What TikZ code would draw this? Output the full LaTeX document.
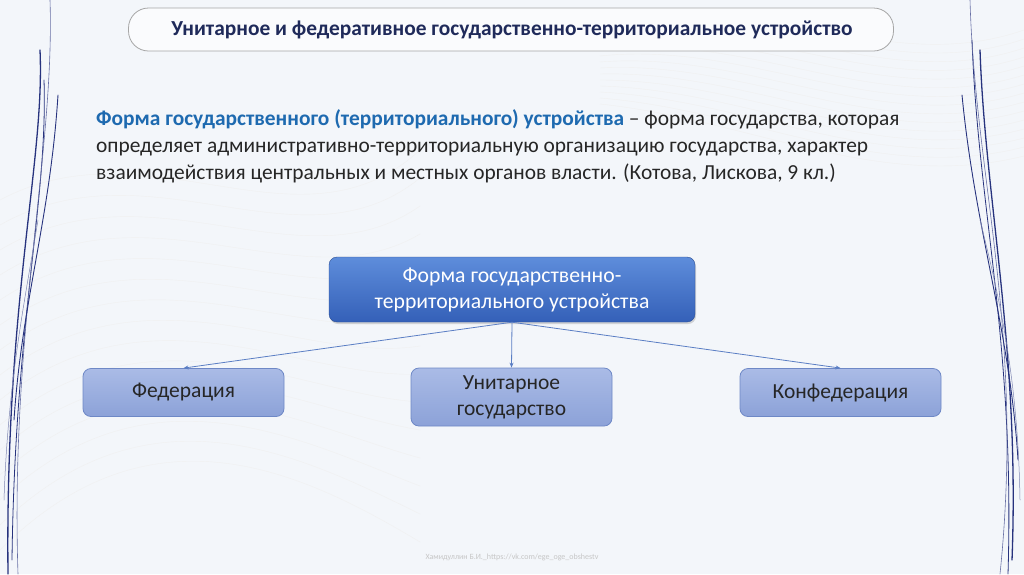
\documentclass[tikz,border=0pt]{standalone}
\usepackage{fontspec}
\setmainfont{Carlito}
\usetikzlibrary{arrows.meta,shadows}
\definecolor{bg}{HTML}{F3F6FA}
\definecolor{navy}{HTML}{27337E}
\definecolor{titlec}{HTML}{1F2A5A}
\definecolor{bluetxt}{HTML}{1E6AB0}
\definecolor{topA}{HTML}{5E8DDB}
\definecolor{topB}{HTML}{3460B8}
\definecolor{botA}{HTML}{AABBE6}
\definecolor{botB}{HTML}{8CA2D8}
\definecolor{botbord}{HTML}{6E88C6}
\definecolor{arrc}{HTML}{5A7EC4}
\tikzset{
  titlebox/.style={draw=gray!70,line width=0.8pt,rounded corners=20pt,fill=white!60!bg,minimum width=765pt,minimum height=43pt},
  topbox/.style={rounded corners=8pt,top color=topA,bottom color=topB,draw=topB!80!black,line width=0.4pt,
    minimum width=366pt,minimum height=65pt,align=center,text=white,font=\fontsize{21.7}{26}\selectfont,inner sep=0pt,
    drop shadow={shadow xshift=1pt,shadow yshift=-2pt,opacity=0.3}},
  subbox/.style={rounded corners=8pt,top color=botA,bottom color=botB,draw=botbord,line width=0.8pt,inner sep=0pt,
    minimum width=201pt,align=center,text=black!85,font=\fontsize{21.5}{26}\selectfont},
  conn/.style={draw=arrc,line width=0.8pt,-{Stealth[length=5pt,width=4pt]}},
  deco/.style={navy,line cap=round}
}
\begin{document}
\begin{tikzpicture}[x=1pt,y=-1pt]
\useasboundingbox (0,0) rectangle (1024,574);
\fill[bg] (0,0) rectangle (1024,574);
% faint mesh
\begin{scope}[gray!12,line width=0.4pt]
\foreach \i in {0,...,14}{
  \draw (0,200+\i*25) .. controls (150,120+\i*20) and (300,260+\i*15) .. (420,150+\i*28);
  \draw (600,20+\i*6) .. controls (750,-20+\i*10) and (880,80+\i*8) .. (1024,30+\i*9);
}
\end{scope}
% left decorative curves
\draw[deco,line width=1.3pt] (40,50) .. controls (45,160) and (5,300) .. (8,574);
\draw[deco,line width=0.8pt] (44,80) .. controls (48,200) and (15,320) .. (12,560);
\draw[deco,line width=0.6pt,navy!70] (50,0) .. controls (55,150) and (10,330) .. (18,574);
\draw[deco,line width=0.9pt] (58,95) .. controls (50,220) and (22,300) .. (14,420);
\draw[deco,line width=0.5pt,navy!60] (38,220) .. controls (25,300) and (8,380) .. (4,500);
% right decorative curves
\draw[deco,line width=1.3pt] (980,50) .. controls (985,200) and (1020,350) .. (1012,560);
\draw[deco,line width=0.8pt] (972,40) .. controls (978,210) and (1015,340) .. (1008,574);
\draw[deco,line width=0.6pt,navy!70] (970,0) .. controls (975,180) and (1025,330) .. (1000,574);
\draw[deco,line width=0.9pt] (962,95) .. controls (975,230) and (1010,330) .. (1018,460);
\draw[deco,line width=0.5pt,navy!60] (980,220) .. controls (1000,300) and (1018,380) .. (1020,500);
% title
\node[titlebox] (title) at (511,29.5) {};
\node[font=\fontsize{21.4}{24}\selectfont\bfseries,text=titlec] (titletext) at (512,30) {Унитарное и федеративное государственно-территориальное устройство};
% definition
\node[anchor=north west,align=left,inner sep=0pt,font=\fontsize{21.4}{27}\selectfont,text=black!85] (def) at (96,109)
 {{\bfseries\color{bluetxt}Форма государственного (территориального) устройства} – форма государства, которая\\
 определяет административно-территориальную организацию государства, характер\\
 взаимодействия центральных и местных органов власти. (Котова, Лискова, 9 кл.)};
% diagram
\node[topbox] (top) at (512,289.5) {Форма государственно-\\территориального устройства};
\node[subbox,minimum height=48pt] (fed) at (183.5,392.5) {Федерация};
\node[subbox,minimum height=58pt] (uni) at (511.5,397) {Унитарное\\государство};
\node[subbox,minimum height=48pt] (conf) at (840.5,392.5) {Конфедерация};
\draw[conn] (top.south) -- (fed.north);
\draw[conn] (top.south) -- (uni.north);
\draw[conn] (top.south) -- (conf.north);
% footer
\node[font=\fontsize{8}{9}\selectfont,text=gray!45] (foot) at (512,557) {Хамидуллин Б.И.\_https://vk.com/ege\_oge\_obshestv};
\end{tikzpicture}
\end{document}
